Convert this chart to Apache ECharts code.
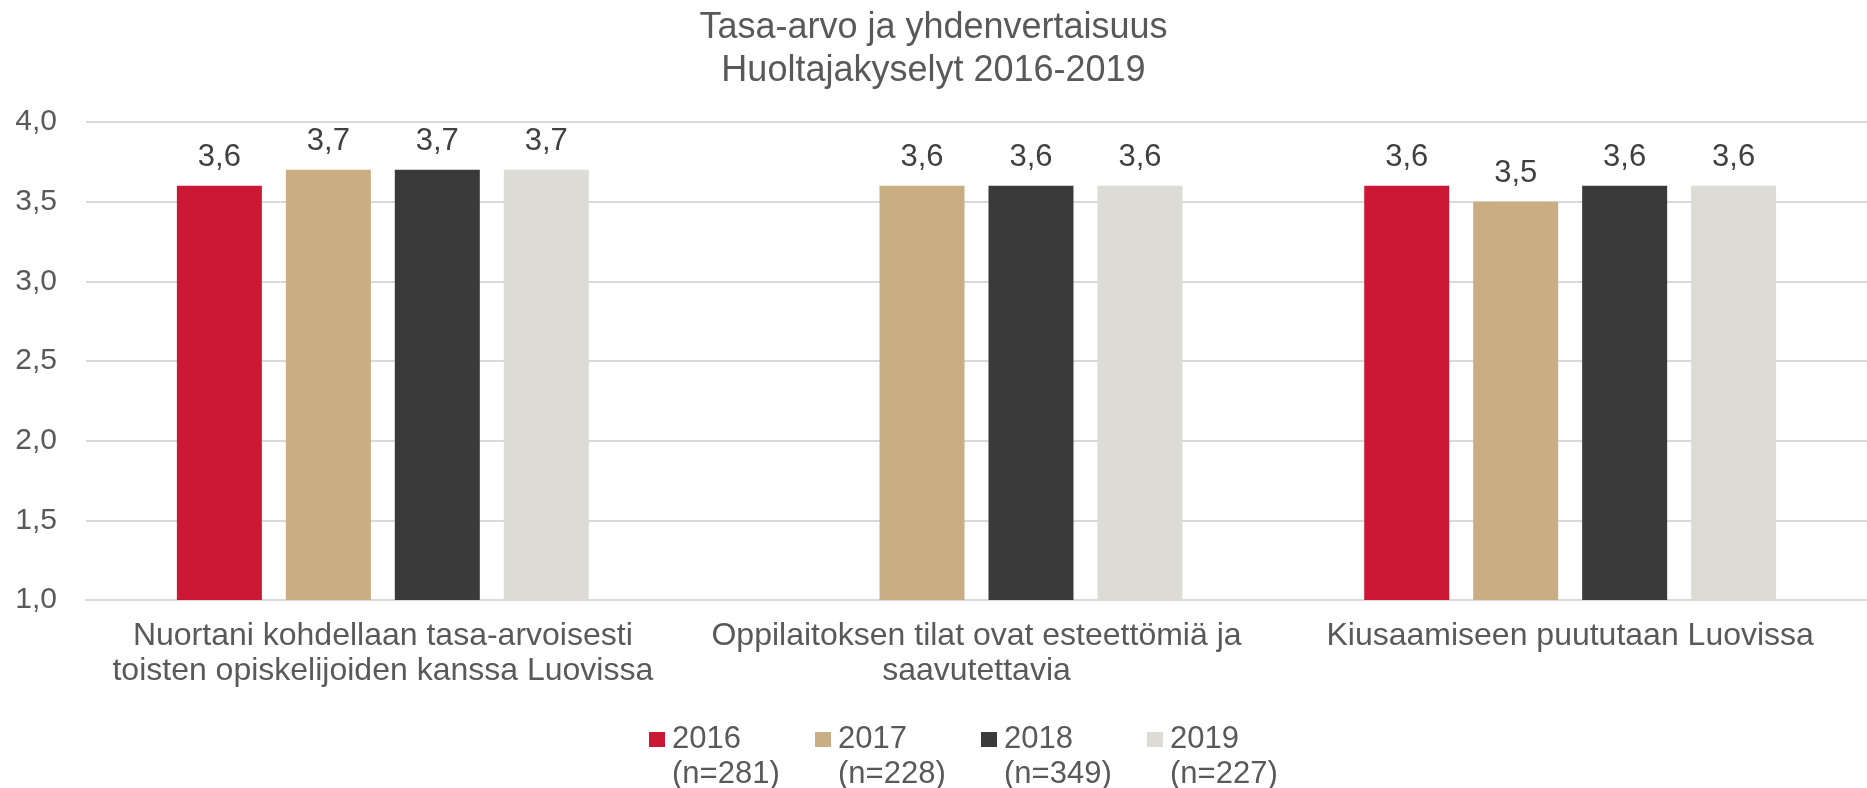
<!DOCTYPE html>
<html>
<head>
<meta charset="utf-8">
<script src="https://cdn.jsdelivr.net/npm/echarts@6/dist/echarts.min.js"></script>
<style>
html,body{margin:0;padding:0;background:#fff;}
#chart{width:1867px;height:788px;}
</style>
</head>
<body>
<div id="chart"></div>
<script>
const titleText = 'Tasa-arvo ja yhdenvertaisuus\nHuoltajakyselyt 2016-2019';
const categories = [
  'Nuortani kohdellaan tasa-arvoisesti\ntoisten opiskelijoiden kanssa Luovissa',
  'Oppilaitoksen tilat ovat esteettömiä ja\nsaavutettavia',
  'Kiusaamiseen puututaan Luovissa'
];
const seriesNames = ['2016\n(n=281)', '2017\n(n=228)', '2018\n(n=349)', '2019\n(n=227)'];
const values2016 = [3.6, null, 3.6];
const values2017 = [3.7, 3.6, 3.5];
const values2018 = [3.7, 3.6, 3.6];
const values2019 = [3.7, 3.6, 3.6];
const yTicks = [1.0, 1.5, 2.0, 2.5, 3.0, 3.5, 4.0];

const colors = ['#CA1835', '#C9AE84', '#3A3A3A', '#DCDBD6'];
const FONT = '"Liberation Sans", Arial, sans-serif';
const allValues = [values2016, values2017, values2018, values2019];

const chart = echarts.init(document.getElementById('chart'), null, {renderer: 'canvas'});
const fmt = v => v.toFixed(1).replace('.', ',');

chart.setOption({
  animation: false,
  backgroundColor: '#ffffff',
  color: colors,
  title: {
    text: titleText,
    left: 'center',
    top: 2,
    textStyle: {fontFamily: FONT, fontSize: 36, fontWeight: 'normal', color: '#595959', lineHeight: 43}
  },
  legend: {
    left: 644,
    top: 717,
    itemGap: 0,
    itemWidth: 18,
    itemHeight: 50,
    icon: 'path://M0,0L16,0L16,15L0,15Z M18,50L18,50',
    textStyle: {fontFamily: FONT, fontSize: 31, color: '#595959', lineHeight: 35, width: 143},
    data: seriesNames
  },
  grid: {left: 86, right: -15, top: 122, bottom: 188, containLabel: false},
  xAxis: {
    type: 'category',
    data: categories,
    axisTick: {show: false},
    axisLine: {show: true, lineStyle: {color: '#d9d9d9', width: 2}},
    axisLabel: {fontFamily: FONT, fontSize: 32, color: '#595959', lineHeight: 35, margin: 19, interval: 0}
  },
  yAxis: {
    type: 'value',
    min: yTicks[0],
    max: yTicks[yTicks.length - 1],
    interval: 0.5,
    axisLine: {show: false},
    axisTick: {show: false},
    splitLine: {lineStyle: {color: '#d9d9d9', width: 2}},
    axisLabel: {fontFamily: FONT, fontSize: 30, color: '#595959', margin: 29, formatter: v => fmt(v)}
  },
  series: seriesNames.map((name, i) => ({
    name: name,
    type: 'bar',
    data: allValues[i],
    barWidth: 85,
    barGap: '28.2%',
    itemStyle: {color: colors[i]},
    label: {
      show: true,
      position: 'top',
      distance: 13,
      fontFamily: FONT,
      fontSize: 31,
      color: '#404040',
      formatter: p => fmt(p.value)
    }
  }))
});
</script>
</body>
</html>
